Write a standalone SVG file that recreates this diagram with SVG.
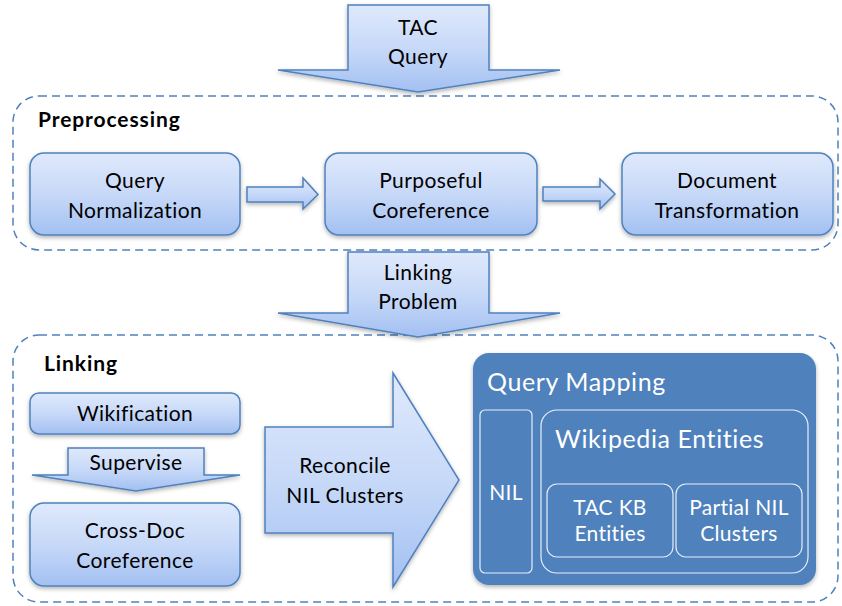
<svg xmlns="http://www.w3.org/2000/svg" width="842" height="606" viewBox="0 0 842 606">
<defs>
<linearGradient id="g" x1="0" y1="0" x2="0" y2="1">
<stop offset="0" stop-color="#dfe9fc"/>
<stop offset="0.5" stop-color="#c7d9f8"/>
<stop offset="1" stop-color="#a3c0f2"/>
</linearGradient>
<filter id="sh" x="-10%" y="-10%" width="120%" height="130%">
<feDropShadow dx="0" dy="2" stdDeviation="2" flood-color="#000" flood-opacity="0.3"/>
</filter>
</defs>
<style>
.n{fill:url(#g);stroke:#4f81bd;stroke-width:1.5;filter:url(#sh)}
.d{fill:none;stroke:#4f81bd;stroke-width:1.5;stroke-dasharray:8 5}
.t{font-family:Lato,"Liberation Sans",sans-serif;font-size:21px;letter-spacing:0.4px;fill:#000;text-anchor:middle}
.b{font-family:Lato,"Liberation Sans",sans-serif;font-size:21px;letter-spacing:0.9px;font-weight:bold;fill:#000}
.w{font-family:Lato,"Liberation Sans",sans-serif;fill:#fff}
.s{font-size:21px;letter-spacing:0.3px;text-anchor:middle}
.l{font-size:25px;letter-spacing:0.6px}
.i{fill:none;stroke:#e8eef8;stroke-width:1.2}
</style>
<g id="preprocessing">
<rect class="d" x="13" y="96" width="825" height="154" rx="26"/>
<text class="b" x="38" y="127">Preprocessing</text>
</g>
<g id="linking">
<rect class="d" x="13" y="335" width="825" height="267" rx="26"/>
<text class="b" x="44" y="371">Linking</text>
</g>
<g id="connectors">
<polygon class="n" points="348,5 489,5 489,70 560,70 418,92 278,70 348,70"/>
<polygon class="n" points="247,187 303,187 303,178 318,194.5 303,209 303,202 247,202"/>
<polygon class="n" points="543,187 600,187 600,179 615,194 600,209 600,201 543,201"/>
<polygon class="n" points="348,252 489,252 489,313 560,313 418,337 278,313 348,313"/>
<polygon class="n" points="68,448 204,448 204,475 240,475 136,491 32,475 68,475"/>
<polygon class="n" points="265,427 393,427 393,373 459,480 393,587 393,533 265,533"/>
</g>
<g id="tac-query">
<text class="t" x="418" y="35">TAC</text>
<text class="t" x="418" y="64">Query</text>
</g>
<g id="query-normalization">
<rect class="n" x="30" y="153" width="210" height="82" rx="14"/>
<text class="t" x="135" y="188">Query</text>
<text class="t" x="135" y="218">Normalization</text>
</g>
<g id="purposeful-coreference">
<rect class="n" x="325" y="153" width="212" height="82" rx="14"/>
<text class="t" x="431" y="188">Purposeful</text>
<text class="t" x="431" y="218">Coreference</text>
</g>
<g id="document-transformation">
<rect class="n" x="622" y="153" width="211" height="82" rx="14"/>
<text class="t" x="727" y="188">Document</text>
<text class="t" x="727" y="218">Transformation</text>
</g>
<g id="linking-problem">
<text class="t" x="418" y="280">Linking</text>
<text class="t" x="418" y="309">Problem</text>
</g>
<g id="wikification">
<rect class="n" x="30" y="393" width="210" height="41" rx="9"/>
<text class="t" x="135" y="421">Wikification</text>
</g>
<g id="supervise">
<text class="t" x="136" y="470">Supervise</text>
</g>
<g id="cross-doc-coreference">
<rect class="n" x="30" y="503" width="210" height="83" rx="14"/>
<text class="t" x="135" y="538">Cross-Doc</text>
<text class="t" x="135" y="568">Coreference</text>
</g>
<g id="reconcile">
<text class="t" x="345" y="473">Reconcile</text>
<text class="t" x="345" y="503">NIL Clusters</text>
</g>
<g id="query-mapping">
<rect x="473" y="353" width="343" height="232" rx="16" fill="#4f81bd" filter="url(#sh)"/>
<text class="w l" x="487" y="391">Query Mapping</text>
</g>
<g id="nil">
<rect class="i" x="480" y="410" width="52" height="163" rx="5"/>
<text class="w s" x="506" y="500">NIL</text>
</g>
<g id="wikipedia-entities">
<rect class="i" x="541" y="410" width="267" height="163" rx="16"/>
<text class="w l" x="555" y="448">Wikipedia Entities</text>
</g>
<g id="tac-kb-entities">
<rect class="i" x="547" y="484" width="126" height="73" rx="10"/>
<text class="w s" x="610" y="515">TAC KB</text>
<text class="w s" x="610" y="541">Entities</text>
</g>
<g id="partial-nil-clusters">
<rect class="i" x="676" y="484" width="126" height="73" rx="10"/>
<text class="w s" x="739" y="515">Partial NIL</text>
<text class="w s" x="739" y="541">Clusters</text>
</g>
</svg>
